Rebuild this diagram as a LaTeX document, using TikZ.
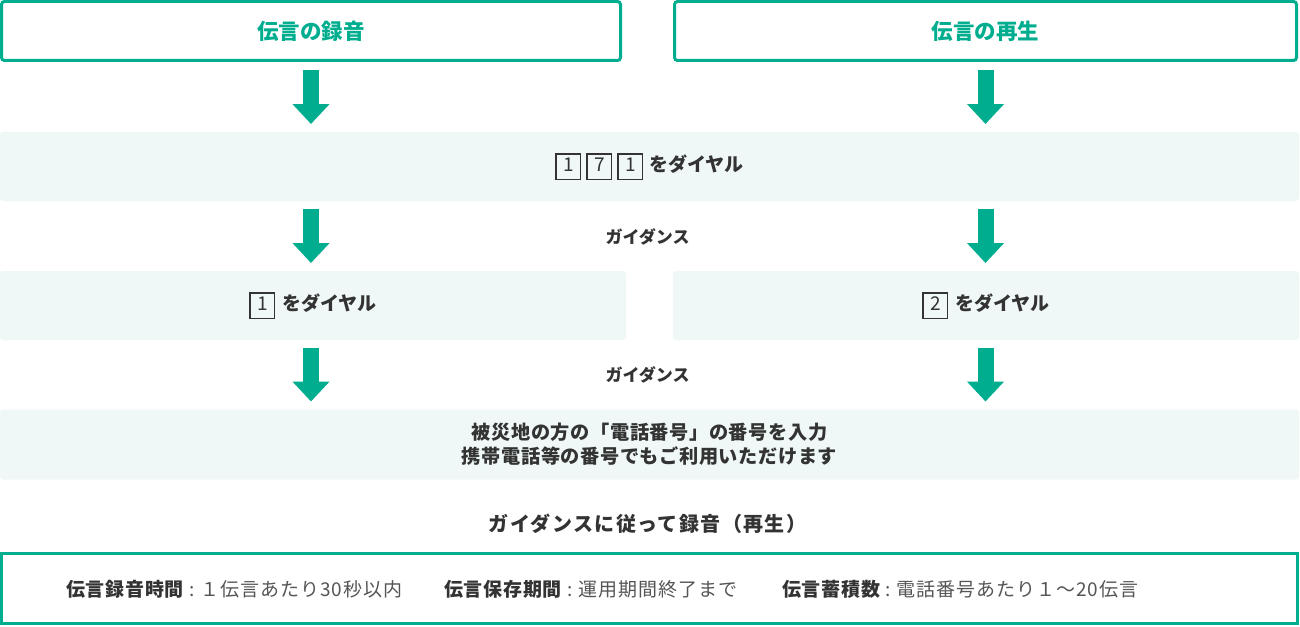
\documentclass[tikz,border=0pt]{standalone}
\usepackage{fontspec}
\setmainfont{Noto Sans CJK JP}
\usetikzlibrary{arrows.meta}
\definecolor{brand}{HTML}{00AE8F}
\definecolor{pale}{HTML}{EFF8F7}
\definecolor{ink}{HTML}{333333}
\definecolor{soft}{HTML}{555555}
\newcommand\trk[1]{\addfontfeatures{LetterSpace=#1}}
\newcommand\kbox[1]{{\setlength\fboxrule{1.5pt}\setlength\fboxsep{2pt}\fbox{\makebox[19pt]{\rule[-5pt]{0pt}{20pt}\fontsize{19}{19}\selectfont\mdseries #1}}}}
\newcommand\sep{\hspace{5pt}:\hspace{6pt}}
\tikzset{
  titlebox/.style={draw=brand, line width=3pt, rounded corners=3pt, text=brand,
    font=\fontsize{21.5}{24}\selectfont\bfseries, inner sep=0pt},
  palebox/.style={fill=pale, rounded corners=3pt, outer sep=0pt, text=ink,
    font=\fontsize{19}{23}\selectfont\bfseries, inner sep=0pt, align=center},
  infobox/.style={draw=brand, line width=3pt, inner sep=0pt},
  bigarrow/.style={draw=brand, line width=16pt, shorten <=8pt, shorten >=8pt,
    -{Triangle[width=36pt,length=20pt]}},
  guide/.style={text=ink, font=\fontsize{17}{20}\selectfont\bfseries, inner sep=0pt},
  lbl/.style={anchor=west, text=ink, inner sep=0pt, font=\fontsize{19}{20}\selectfont\bfseries\trk{4}},
  val/.style={anchor=west, text=soft, inner sep=0pt, font=\fontsize{19}{20}\selectfont\mdseries\trk{5}},
}
\begin{document}
\begin{tikzpicture}[x=1pt,y=-1pt]
\useasboundingbox (0,0) rectangle (1300,626);
\fill[white] (0,0) rectangle (1300,626);
% title boxes
\node[titlebox, minimum width=619pt, minimum height=59pt] (t1) at (311,31) {伝言の録音};
\node[titlebox, minimum width=622pt, minimum height=59pt] (t2) at (985.5,31) {伝言の再生};
% step boxes
\node[palebox, minimum width=1299pt, minimum height=69pt] (dial) at (649.5,166.5) {\kbox{1}\hspace{5pt}\kbox{7}\hspace{5pt}\kbox{1}\hspace{6pt}をダイヤル};
\node[palebox, minimum width=626pt, minimum height=69pt] (d1) at (313,305.5) {\kbox{1}\hspace{7pt}をダイヤル};
\node[palebox, minimum width=626pt, minimum height=69pt] (d2) at (986,305.5) {\kbox{2}\hspace{7pt}をダイヤル};
\node[palebox, minimum width=1299pt, minimum height=70pt, font=\fontsize{19.2}{24}\selectfont\bfseries\trk{3}] (num) at (649.5,444.5) {被災地の方の「電話番号」の番号を入力\\携帯電話等の番号でもご利用いただけます};
% guidance labels
\node[guide] (g1) at (647.5,237) {ガイダンス};
\node[guide] (g2) at (647.5,375) {ガイダンス};
\node[guide, font=\fontsize{20}{22}\selectfont\bfseries\trk{7}] (rec) at (647.5,524) {ガイダンスに従って録音（再生）};
% arrows
\draw[bigarrow] (t1.south) -- (t1.south |- dial.north);
\draw[bigarrow] (t2.south) -- (t2.south |- dial.north);
\draw[bigarrow] (dial.south -| t1.south) -- (d1.north -| t1.south);
\draw[bigarrow] (dial.south -| t2.south) -- (d2.north -| t2.south);
\draw[bigarrow] (d1.south -| t1.south) -- (num.north -| t1.south);
\draw[bigarrow] (d2.south -| t2.south) -- (num.north -| t2.south);
% bottom info
\node[infobox, minimum width=1296pt, minimum height=70pt] (info) at (649.5,588.5) {};
\node[lbl] (l1) at (66,589) {伝言録音時間};
\node[val] (v1) at (l1.east) {\sep １伝言あたり30秒以内};
\node[lbl] (l2) at (444,589) {伝言保存期間};
\node[val] (v2) at (l2.east) {\sep 運用期間終了まで};
\node[lbl] (l3) at (782,589) {伝言蓄積数};
\node[val] (v3) at (l3.east) {\sep 電話番号あたり１～20伝言};
\end{tikzpicture}
\end{document}
